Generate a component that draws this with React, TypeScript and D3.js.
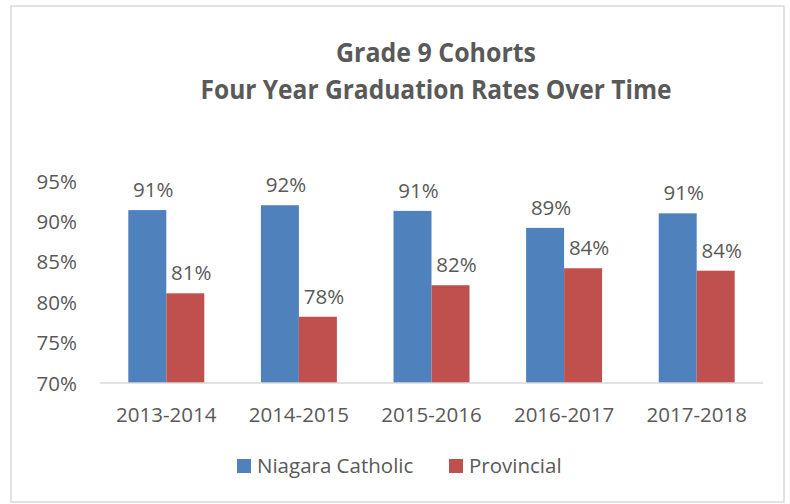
import React from "react";
import * as d3 from "d3";

const categories = ["2013-2014", "2014-2015", "2015-2016", "2016-2017", "2017-2018"];
const seriesNames = ["Niagara Catholic", "Provincial"];
const niagaraCatholic = [91.4, 92.0, 91.3, 89.2, 91.0];
const provincial = [81.1, 78.2, 82.1, 84.2, 83.9];
const yTicks = [70, 75, 80, 85, 90, 95];
const titleLines = ["Grade 9 Cohorts", "Four Year Graduation Rates Over Time"];

const colors = ["#4F81BD", "#C0504D"];
const textColor = "#595959";
const font = "'Open Sans', 'Noto Sans', sans-serif";

export default function App() {
  const W = 790, H = 504;
  const left = 100, right = 763, top = 181, bottom = 383;
  const series = [niagaraCatholic, provincial];

  const x = d3.scaleBand<string>().domain(categories).range([left, right]).paddingInner(0.427).paddingOuter(0.2135);
  const xs = d3.scaleBand<number>().domain([0, 1]).range([0, x.bandwidth()]);
  const y = d3.scaleLinear().domain([70, 95]).range([bottom, top]);

  return (
    <svg width={W} height={H} style={{ position: "absolute", left: 0, top: 0 }}>
      <rect x={0} y={0} width={W} height={H} fill="#fff" />
      <rect x={11} y={6} width={773} height={496} fill="#fff" stroke="#d9d9d9" strokeWidth={1.5} />
      {titleLines.map((t, i) => (
        <text key={t} x={436} y={i === 0 ? 61.5 : 99} textAnchor="middle" fontFamily={font} fontWeight="bold"
          fontSize={27} fill={textColor} textLength={i === 0 ? 200 : 471} lengthAdjust="spacingAndGlyphs">{t}</text>
      ))}
      {yTicks.map((v) => (
        <text key={v} x={77} y={y(v) + 7.5} textAnchor="end" fontFamily={font} fontSize={20.5} fill={textColor}>{v}%</text>
      ))}
      {series.map((vals, si) => (
        <g key={si}>
          {vals.map((v, ci) => {
            const bx = (x(categories[ci]) ?? 0) + (xs(si) ?? 0);
            const bw = xs.bandwidth();
            return (
              <g key={ci}>
                <rect x={bx} y={y(v)} width={bw} height={bottom - y(v)} fill={colors[si]} />
                <text x={bx + bw / 2 + 6} y={y(v) - 13} textAnchor="middle" fontFamily={font} fontSize={20.5} fill={textColor}>
                  {Math.round(v)}%
                </text>
              </g>
            );
          })}
        </g>
      ))}
      <line x1={left} x2={right} y1={bottom} y2={bottom} stroke="#d9d9d9" strokeWidth={1.5} />
      {categories.map((c) => (
        <text key={c} x={(x(c) ?? 0) + x.bandwidth() / 2} y={422} textAnchor="middle" fontFamily={font} fontSize={20.5} fill={textColor}>{c}</text>
      ))}
      {seriesNames.map((n, i) => {
        const lx = i === 0 ? 237 : 449;
        return (
          <g key={n}>
            <rect x={lx} y={459} width={14} height={14} fill={colors[i]} />
            <text x={lx + 20} y={472.5} fontFamily={font} fontSize={20.5} fill={textColor}>{n}</text>
          </g>
        );
      })}
    </svg>
  );
}
